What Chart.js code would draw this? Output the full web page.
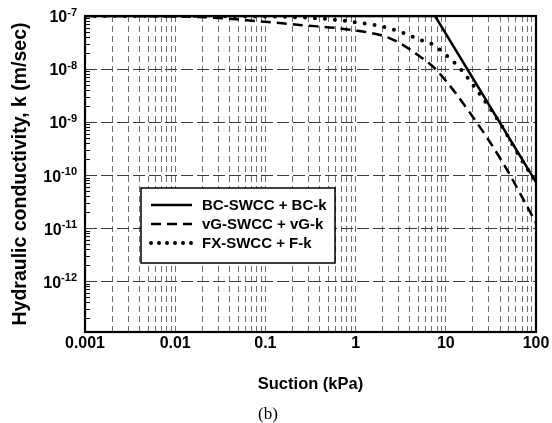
<!DOCTYPE html>
<html>
<head>
<meta charset="utf-8">
<script src="https://cdn.jsdelivr.net/npm/chart.js@4/dist/chart.umd.min.js"></script>
<style>
  html, body { margin: 0; padding: 0; background: #fff; }
  #wrap { width: 552px; height: 423px; }
</style>
</head>
<body>
<div id="wrap"><canvas id="chart"></canvas></div>
<script>
// ===== data =====
const suctionBC = [0.001, 7.6, 100];
const kBC       = [1e-7, 1e-7, 7.4e-11];

const suctionVG = [0.001, 0.01, 0.03, 0.087, 0.24, 0.87, 2.4, 5, 7.9, 18.6, 43, 100];
const kVG       = [1e-7, 9.8e-8, 9.2e-8, 7.9e-8, 6.8e-8, 5.5e-8, 3.8e-8, 1.8e-8, 9.5e-9, 1.48e-9, 1.7e-10, 1.26e-11];

const suctionFX = [0.001, 0.1, 0.56, 1.12, 2.0, 3.4, 5.1, 7.2, 10.2, 15, 20, 31, 43, 66, 100];
const kFX       = [1e-7, 9.8e-8, 8.6e-8, 7.4e-8, 6.3e-8, 4.8e-8, 3.6e-8, 2.9e-8, 1.8e-8, 9.5e-9, 5e-9, 1.8e-9, 7.8e-10, 2.2e-10, 7.5e-11];

const seriesLabels = ["BC-SWCC + BC-k", "vG-SWCC + vG-k", "FX-SWCC + F-k"];

const xMajors = [0.001, 0.01, 0.1, 1, 10, 100];
const xTickLabels = ["0.001", "0.01", "0.1", "1", "10", "100"];
const yMajors = [1e-7, 1e-8, 1e-9, 1e-10, 1e-11, 1e-12];
const yExponents = ["-7", "-8", "-9", "-10", "-11", "-12"];
const yMin = 1.1e-13;
const yMax = 1e-7;

// minor positions 2..9 in each decade
function minorsFor(lo, hi) {
  const out = [];
  for (let d = lo; d < hi; d *= 10) {
    for (let m = 2; m <= 9; m++) out.push(+(d * m).toPrecision(3));
  }
  return out;
}
const xMinors = minorsFor(0.001, 100);
const yMinors = minorsFor(1e-13, 1e-7).filter(v => v >= yMin && v <= yMax);

const pts = (xs, ys) => xs.map((x, i) => ({ x, y: ys[i] }));

const BOLD = "'Liberation Sans', Arial, sans-serif";

// ===== plugins =====
const framePlugin = {
  id: "frame",
  afterDatasetsDraw(chart) {
    const { ctx, chartArea: a, scales } = chart;
    ctx.save();
    // inward minor ticks on y axis
    ctx.strokeStyle = "#000";
    ctx.lineWidth = 1;
    yMinors.forEach(v => {
      const y = Math.round(scales.y.getPixelForValue(v)) + 0.5;
      ctx.beginPath();
      ctx.moveTo(a.left, y);
      ctx.lineTo(a.left + 5, y);
      ctx.stroke();
    });
    // frame
    ctx.lineWidth = 2.2;
    ctx.strokeRect(a.left, a.top, a.right - a.left, a.bottom - a.top);

    // y tick labels 10^n
    ctx.fillStyle = "#000";
    yMajors.forEach((v, i) => {
      const y = scales.y.getPixelForValue(v);
      ctx.font = "bold 11px " + BOLD;
      const ew = ctx.measureText(yExponents[i]).width;
      const right = a.left - 8;
      ctx.textAlign = "left";
      ctx.textBaseline = "middle";
      ctx.fillText(yExponents[i], right - ew, y - 3);
      ctx.font = "bold 16px " + BOLD;
      ctx.textAlign = "right";
      ctx.fillText("10", right - ew, y + 2);
    });

    // legend box
    const bx = 141, by = 188, bw = 194, bh = 75;
    ctx.fillStyle = "#fff";
    ctx.fillRect(bx, by, bw, bh);
    ctx.lineWidth = 1.5;
    ctx.strokeStyle = "#000";
    ctx.strokeRect(bx, by, bw, bh);
    chart.data.datasets.forEach((ds, i) => {
      const ly = by + 17 + i * 19;
      ctx.save();
      ctx.strokeStyle = ds.borderColor;
      ctx.lineWidth = ds.borderWidth;
      ctx.lineCap = ds.borderCapStyle || "butt";
      ctx.setLineDash(ds.legendDash || []);
      ctx.beginPath();
      ctx.moveTo(bx + 10, ly);
      ctx.lineTo(bx + 51, ly);
      ctx.stroke();
      ctx.restore();
      ctx.fillStyle = "#000";
      ctx.font = "bold 15px " + BOLD;
      ctx.textAlign = "left";
      ctx.textBaseline = "middle";
      ctx.fillText(ds.label, bx + 61, ly + 1);
    });
    ctx.restore();
  },
};

// ===== chart =====
new Chart(document.getElementById("chart"), {
  type: "line",
  data: {
    datasets: [
      {
        label: seriesLabels[0],
        data: pts(suctionBC, kBC),
        borderColor: "#000",
        borderWidth: 2.5,
        pointRadius: 0,
        tension: 0,
      },
      {
        label: seriesLabels[1],
        data: pts(suctionVG, kVG),
        borderColor: "#000",
        borderWidth: 2.5,
        borderDash: [10, 6],
        legendDash: [10, 6],
        pointRadius: 0,
        cubicInterpolationMode: "monotone",
      },
      {
        label: seriesLabels[2],
        data: pts(suctionFX, kFX),
        borderColor: "#000",
        borderWidth: 4,
        borderCapStyle: "round",
        borderDash: [0, 10],
        legendDash: [0, 8],
        pointRadius: 0,
        cubicInterpolationMode: "monotone",
      },
    ],
  },
  options: {
    responsive: true,
    maintainAspectRatio: false,
    animation: false,
    devicePixelRatio: 1,
    layout: { padding: { left: 0, top: 16, right: 16, bottom: 0 } },
    plugins: {
      legend: { display: false },
      tooltip: { enabled: false },
      title: {
        display: true,
        position: "bottom",
        text: "(b)",
        color: "#000",
        font: { family: "'Liberation Serif', 'Times New Roman', serif", size: 17, weight: "normal", lineHeight: 1.0 },
        padding: 0,
      },
    },
    scales: {
      x: {
        type: "logarithmic",
        min: 0.001,
        max: 100,
        afterBuildTicks(scale) {
          scale.ticks = [...xMajors, ...xMinors].sort((a, b) => a - b).map(v => ({ value: v }));
        },
        afterFit(scale) { scale.height = 423 - 332 - 17; },
        grid: { color: "#6e6e6e", lineWidth: 1, drawTicks: false },
        border: { display: false, dash: [6, 4] },
        ticks: {
          autoSkip: false,
          maxRotation: 0,
          padding: 2,
          color: "#000",
          font: { family: BOLD, size: 16, weight: "bold" },
          callback(v) {
            const i = xMajors.findIndex(m => Math.abs(m - v) / m < 1e-6);
            return i >= 0 ? xTickLabels[i] : "";
          },
        },
        title: {
          display: true,
          text: "Suction (kPa)",
          color: "#000",
          font: { family: BOLD, size: 16.5, weight: "bold", lineHeight: 1.2 },
          padding: { top: 12, bottom: 12 },
        },
      },
      y: {
        type: "logarithmic",
        min: yMin,
        max: yMax,
        afterBuildTicks(scale) {
          scale.ticks = yMajors.map(v => ({ value: v }));
        },
        afterFit(scale) { scale.width = 85; },
        grid: { color: "#3a3a3a", lineWidth: 1, drawTicks: false },
        border: { display: false, dash: [12, 4] },
        ticks: { display: false },
        title: {
          display: true,
          text: "Hydraulic conductivity, k (m/sec)",
          color: "#000",
          font: { family: BOLD, size: 19.5, weight: "bold", lineHeight: 1.2 },
          padding: { top: 9, bottom: 9 },
        },
      },
    },
  },
  plugins: [framePlugin],
});
</script>
</body>
</html>
